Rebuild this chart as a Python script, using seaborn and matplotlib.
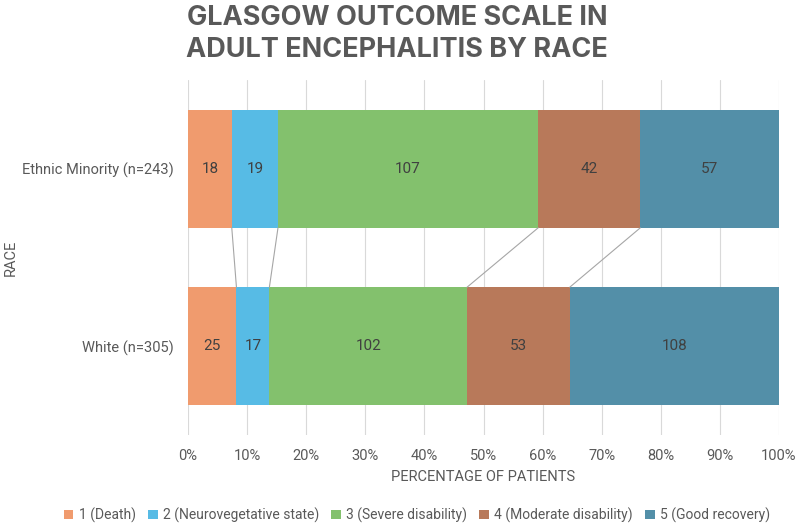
import matplotlib
matplotlib.use("Agg")
import matplotlib.pyplot as plt
import seaborn as sns
import numpy as np
import pandas as pd
from matplotlib.patches import Patch
from matplotlib.ticker import PercentFormatter

races = ["Ethnic Minority (n=243)", "White (n=305)"]
outcomes = ["1 (Death)", "2 (Neurovegetative state)", "3 (Severe disability)",
            "4 (Moderate disability)", "5 (Good recovery)"]
counts_minority = [18, 19, 107, 42, 57]
counts_white = [25, 17, 102, 53, 108]
colors = ["#F09B6E", "#57BBE5", "#83C16D", "#B8795A", "#538FA8"]
x_ticks = [0, 10, 20, 30, 40, 50, 60, 70, 80, 90, 100]

sns.set_theme(style="white")
plt.rcParams['font.family'] = ['Roboto', 'DejaVu Sans']
text_gray = "#595959"

counts = np.array([counts_minority, counts_white], dtype=float)
pct = counts / counts.sum(axis=1, keepdims=True) * 100
cum = np.cumsum(pct, axis=1)

fig = plt.figure(figsize=(7.99, 5.26), dpi=100)
ax = fig.add_axes([188/799, 1-435/526, 591/799, 355/526])

bar_h = 0.665
# overlay cumulative bars from the last level to the first
for k in range(len(outcomes) - 1, -1, -1):
    df = pd.DataFrame({"race": races, "cum": cum[:, k]})
    sns.barplot(data=df, x="cum", y="race", order=races, color=colors[k],
                saturation=1, width=bar_h, orient="h", ax=ax, zorder=2,
                linewidth=0)

# segment labels
for i in range(len(races)):
    for k in range(len(outcomes)):
        left = cum[i, k] - pct[i, k]
        ax.text(left + pct[i, k] / 2, i, f"{int(counts[i, k])}",
                ha="center", va="center", fontsize=11, color="#404040", zorder=4)

# series lines
for k in range(len(outcomes) - 1):
    ax.plot([cum[0, k], cum[1, k]], [0 + bar_h / 2, 1 - bar_h / 2],
            color="#A6A6A6", lw=0.8, zorder=3)

ax.set_xlim(0, 100)
ax.set_ylim(1.5, -0.5)
ax.set_xticks(x_ticks)
ax.xaxis.set_major_formatter(PercentFormatter(decimals=0))
ax.grid(axis="x", color="#D9D9D9", lw=0.8, zorder=0)
ax.grid(axis="y", visible=False)
ax.set_axisbelow(True)
for s in ax.spines.values():
    s.set_visible(False)
ax.tick_params(axis="both", length=0, labelsize=10.5, labelcolor=text_gray)
ax.tick_params(axis="y", pad=10)
ax.tick_params(axis="x", pad=10)
ax.set_xlabel("PERCENTAGE OF PATIENTS", fontsize=10.5, color=text_gray, labelpad=5)
ax.set_ylabel("RACE", fontsize=10.5, color=text_gray)
ax.yaxis.set_label_coords(-170/591, 0.5)

fig.text(0.497, 1 - 5/526, "GLASGOW OUTCOME SCALE IN\nADULT ENCEPHALITIS BY RACE",
         ha="center", va="top", fontsize=19.5, fontweight="bold", color=text_gray,
         family=["Inter", "DejaVu Sans"], linespacing=1.3)

handles = [Patch(facecolor=c, edgecolor="none") for c in colors]
fig.legend(handles, outcomes, loc="center", bbox_to_anchor=(417/799, 1 - 515/526),
           ncol=5, frameon=False, fontsize=10, labelcolor=text_gray,
           handlelength=0.7, handleheight=0.7, handletextpad=0.4, columnspacing=0.85)

fig.savefig("out.png", dpi=100)
